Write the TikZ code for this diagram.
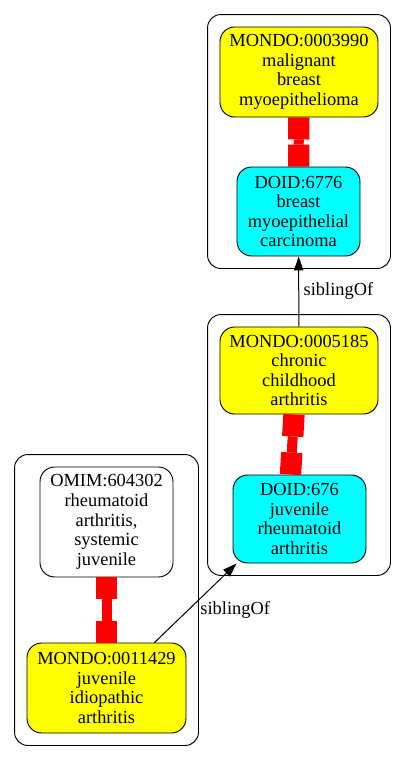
\documentclass[tikz,border=0pt]{standalone}
\usepackage{fontspec}
\setmainfont{Liberation Serif}
\usetikzlibrary{arrows.meta,positioning,fit}
\definecolor{mondoyellow}{HTML}{FFFF00}
\definecolor{doidcyan}{HTML}{00FFFF}
\newcommand{\termfont}{\fontsize{13.8}{14.7}\selectfont}

\begin{document}
\begin{tikzpicture}[x=0.75pt, y=-0.75pt,
  term/.style={draw, line width=0.7pt, rounded corners=11pt, align=center, font=\termfont, inner sep=2pt},
  mondo/.style={term, fill=mondoyellow},
  doid/.style={term, fill=doidcyan},
  omim/.style={term, fill=white},
  grp/.style={draw, line width=0.7pt, rounded corners=10pt, inner sep=9pt},
  xref/.style={red, line width=7.5pt, {Rectangle[length=16.5pt,width=16pt,line width=0pt]}-{Rectangle[length=16.5pt,width=16pt,line width=0pt]}},
  sib/.style={-{Triangle[length=10.5pt,width=7pt]}, line width=0.75pt},
]
\useasboundingbox (0,0) rectangle (405,761);

% Breast myoepithelioma (top right)
\node[mondo, minimum width=118.5pt, minimum height=67.5pt] (m3990) at (299,72) {MONDO:0003990\\malignant\\breast\\myoepithelioma};
\node[doid, minimum width=92.25pt, minimum height=66.75pt] (d6776) at (298.5,211.5) {DOID:6776\\breast\\myoepithelial\\carcinoma};

% Chronic childhood arthritis (middle right)
\node[mondo, minimum width=118.5pt, minimum height=65.25pt] (m5185) at (299,370.5) {MONDO:0005185\\chronic\\childhood\\arthritis};
\node[doid, minimum width=99.75pt, minimum height=66pt] (d676) at (299.5,519) {DOID:676\\juvenile\\rheumatoid\\arthritis};

% Juvenile idiopathic arthritis (bottom left)
\node[omim, minimum width=99.75pt, minimum height=82.5pt] (o604302) at (106.5,522) {OMIM:604302\\rheumatoid\\arthritis,\\systemic\\juvenile};
\node[mondo, minimum width=119.25pt, minimum height=67.5pt] (m11429) at (106.5,688) {MONDO:0011429\\juvenile\\idiopathic\\arthritis};

% Clusters
\node[grp, fit=(m3990)(d6776)] (c1) {};
\node[grp, fit=(m5185)(d676)] (c2) {};
\node[grp, fit=(o604302)(m11429)] (c3) {};

% Equivalences
\draw[xref] (m3990) -- (d6776);
\draw[xref] ([xshift=-3.75pt]m5185.south) -- ([xshift=-6.75pt]d676.north);
\draw[xref] (o604302) -- (m11429);

% Sibling links
\draw[sib] (m5185) -- node[right, font=\termfont] {siblingOf} (d6776);
\draw[sib] ([xshift=36pt]m11429.north) -- node[right, yshift=-5pt, font=\termfont] {siblingOf} ([xshift=3pt]d676.south west);
\end{tikzpicture}
\end{document}
